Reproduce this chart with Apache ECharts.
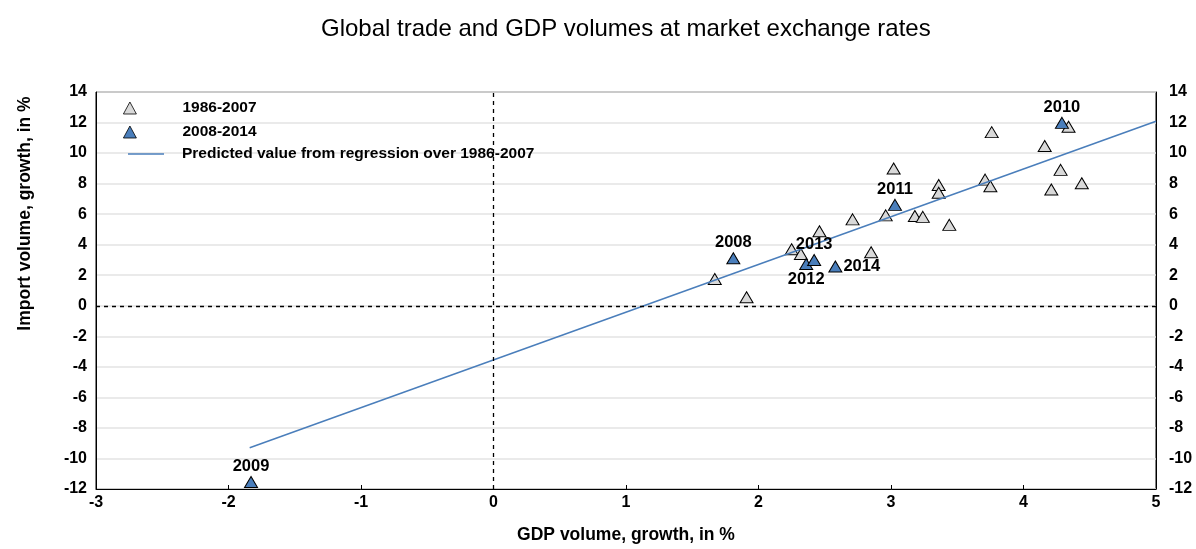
<!DOCTYPE html>
<html>
<head>
<meta charset="utf-8">
<script src="https://cdn.jsdelivr.net/npm/echarts@6/dist/echarts.min.js"></script>
<style>html,body{margin:0;padding:0;background:#fff}#c{width:1196px;height:549px}</style>
</head>
<body>
<div id="c"></div>
<script>
// ---- data ----
const gdpEarly = [1.67, 1.91, 2.25, 2.32, 2.46, 2.71, 2.85, 2.96, 3.18, 3.24, 3.44, 3.36, 3.36, 3.02, 3.76, 3.71, 3.75, 4.16, 4.28, 4.21, 4.44, 4.34];
const impEarly = [1.75, 0.56, 3.70, 3.39, 4.88, 5.66, 3.50, 5.92, 5.88, 5.82, 5.30, 7.91, 7.40, 8.99, 11.37, 8.26, 7.83, 10.46, 8.90, 7.61, 8.02, 11.72];
const yearsLate = ['2008', '2009', '2010', '2011', '2012', '2013', '2014'];
const gdpLate = [1.81, -1.83, 4.29, 3.03, 2.36, 2.42, 2.58];
const impLate = [3.11, -11.54, 11.98, 6.61, 2.74, 3.00, 2.57];
const regX = [-1.84, 5];
const regY = [-9.3, 12.08];
const xTicks = [-3, -2, -1, 0, 1, 2, 3, 4, 5];
const yTicks = [-12, -10, -8, -6, -4, -2, 0, 2, 4, 6, 8, 10, 12, 14];

const nameEarly = '1986-2007';
const nameLate = '2008-2014';
const nameReg = 'Predicted value from regression over 1986-2007';

// label placement (style)
const labelPlace = { '2012': 'bottom', '2014': 'right' };

const FONT = '"Liberation Sans", Arial, sans-serif';
const BLUE = '#4a7ebb';
const GRAY = '#d9d9d9';

const chart = echarts.init(document.getElementById('c'), null, { renderer: 'canvas' });

const earlyData = gdpEarly.map((x, i) => [x, impEarly[i]]);
const lateData = gdpLate.map((x, i) => ({
  value: [x, impLate[i]],
  name: yearsLate[i],
  label: { position: labelPlace[yearsLate[i]] || 'top' }
}));
const regData = regX.map((x, i) => [x, regY[i]]);

const yAxisBase = {
  type: 'value',
  min: yTicks[0], max: yTicks[yTicks.length - 1], interval: 2,
  axisLine: { show: true, onZero: false, lineStyle: { color: '#000', width: 1 } },
  axisTick: { show: false },
  axisLabel: { color: '#000', fontFamily: FONT, fontWeight: 'bold', fontSize: 16 },
  splitLine: { show: false }
};

chart.setOption({
  animation: false,
  title: {
    text: 'Global trade and GDP volumes at market exchange rates',
    left: 316, top: 12,
    textStyle: { fontFamily: FONT, fontWeight: 'normal', fontSize: 24, color: '#000' }
  },
  grid: { left: 96, right: 40, top: 92, bottom: 56, show: true, borderColor: '#000', borderWidth: 1, containLabel: false },
  legend: [
    {
      data: [
        { name: nameEarly, itemStyle: { color: GRAY, borderColor: '#000', borderWidth: 0.8 } },
        { name: nameLate, itemStyle: { color: BLUE, borderColor: '#000', borderWidth: 0.8 } }
      ],
      orient: 'vertical', left: 118, top: 95, itemGap: 8,
      itemWidth: 13, itemHeight: 12,
      textStyle: { fontFamily: FONT, fontWeight: 'bold', fontSize: 15.5, color: '#000', padding: [0, 0, 0, 41] }
    },
    {
      data: [{ name: nameReg, icon: 'rect', itemStyle: { color: BLUE } }],
      orient: 'vertical', left: 123, top: 141,
      itemWidth: 36, itemHeight: 1.5,
      textStyle: { fontFamily: FONT, fontWeight: 'bold', fontSize: 15.5, color: '#000', padding: [0, 0, 0, 13] }
    }
  ],
  xAxis: {
    type: 'value', min: xTicks[0], max: xTicks[xTicks.length - 1], interval: 1,
    name: 'GDP volume, growth, in %', nameLocation: 'middle', nameGap: 37,
    nameTextStyle: { fontFamily: FONT, fontWeight: 'bold', fontSize: 17.5, color: '#000' },
    axisLine: { show: true, onZero: false, lineStyle: { color: '#000', width: 1 } },
    axisTick: { show: true, inside: true, length: 4, lineStyle: { color: '#000' } },
    axisLabel: { color: '#000', fontFamily: FONT, fontWeight: 'bold', fontSize: 16, margin: 6 },
    splitLine: { show: false }
  },
  yAxis: [
    Object.assign({}, yAxisBase, {
      position: 'left',
      name: 'Import volume, growth, in %', nameLocation: 'middle', nameGap: 62,
      nameTextStyle: { fontFamily: FONT, fontWeight: 'bold', fontSize: 17.5, color: '#000', padding: [0, 0, 0, 154] },
      axisLabel: Object.assign({}, yAxisBase.axisLabel, { margin: 9 }),
      splitLine: { show: true, lineStyle: { color: '#e3e3e3', width: 1.5 } }
    }),
    Object.assign({}, yAxisBase, {
      position: 'right',
      axisLabel: Object.assign({}, yAxisBase.axisLabel, { margin: 13, align: 'left' })
    })
  ],
  series: [
    {
      name: nameEarly, type: 'scatter', data: earlyData, z: 3,
      symbol: 'triangle', symbolSize: [13, 11],
      itemStyle: { color: GRAY, borderColor: '#000', borderWidth: 1, opacity: 1 },
      markLine: {
        silent: true, symbol: 'none', label: { show: false },
        lineStyle: { color: '#000', type: [4, 4], width: 1.3 },
        data: [{ xAxis: 0 }, { yAxis: 0 }]
      }
    },
    {
      name: nameReg, type: 'line', data: regData, z: 4,
      showSymbol: false, symbol: 'none',
      lineStyle: { color: BLUE, width: 1.5 },
      itemStyle: { color: BLUE }
    },
    {
      name: nameLate, type: 'scatter', data: lateData, z: 5,
      symbol: 'triangle', symbolSize: [13, 11],
      itemStyle: { color: BLUE, borderColor: '#000', borderWidth: 1, opacity: 1 },
      label: {
        show: true, formatter: '{b}', distance: 1, color: '#000',
        fontFamily: FONT, fontWeight: 'bold', fontSize: 16.5
      }
    }
  ]
});
</script>
</body>
</html>
